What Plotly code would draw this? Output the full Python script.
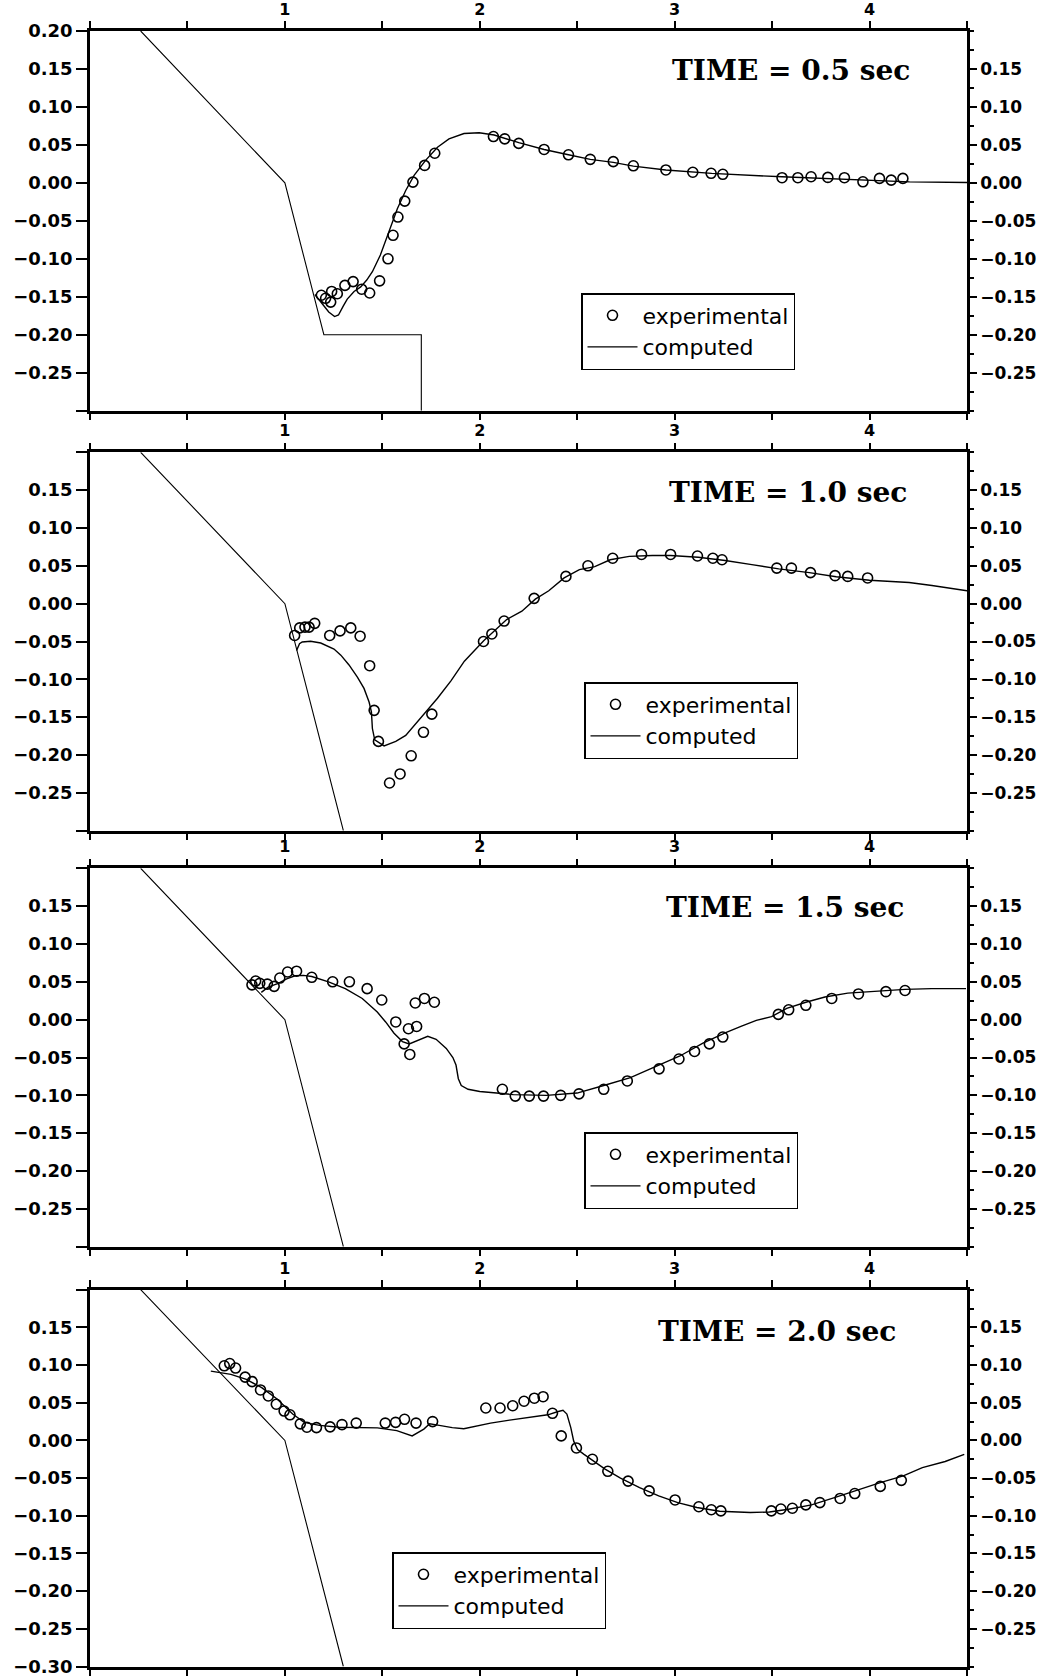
import plotly.graph_objects as go

# ---------------- data ----------------
panel_titles = ["TIME = 0.5 sec", "TIME = 1.0 sec", "TIME = 1.5 sec", "TIME = 2.0 sec"]

x_tick_vals = [0.0, 0.5, 1.0, 1.5, 2.0, 2.5, 3.0, 3.5, 4.0, 4.5]
x_tick_text = ["", "", "1", "", "2", "", "3", "", "4", ""]

y_tick_vals = [-0.30, -0.25, -0.20, -0.15, -0.10, -0.05, 0.00, 0.05, 0.10, 0.15, 0.20]
y_left_text_p1 = ["", "−0.25", "−0.20", "−0.15", "−0.10", "−0.05", "0.00", "0.05", "0.10", "0.15", "0.20"]
y_left_text_mid = ["", "−0.25", "−0.20", "−0.15", "−0.10", "−0.05", "0.00", "0.05", "0.10", "0.15", ""]
y_left_text_p4 = ["−0.30", "−0.25", "−0.20", "−0.15", "−0.10", "−0.05", "0.00", "0.05", "0.10", "0.15", ""]
y_right_text = ["", "−0.25", "−0.20", "−0.15", "−0.10", "−0.05", "0.00", "0.05", "0.10", "0.15", ""]
y_minor_vals = [-0.30, -0.275, -0.25, -0.225, -0.20, -0.175, -0.15, -0.125, -0.10, -0.075, -0.05,
                -0.025, 0.0, 0.025, 0.05, 0.075, 0.10, 0.125, 0.15, 0.175, 0.20]

# bottom profile (slope)
bed1_x = [0.26, 1.0, 1.2, 1.7, 1.7]
bed1_y = [0.20, 0.0, -0.20, -0.20, -0.30]
bed_x = [0.26, 1.0, 1.3]
bed_y = [0.20, 0.0, -0.30]

# TIME = 0.5 sec
comp1_x = [1.154, 1.19, 1.225, 1.255, 1.275, 1.30, 1.32, 1.355, 1.389, 1.42, 1.449, 1.49, 1.534,
           1.577, 1.62, 1.663, 1.723, 1.783, 1.842, 1.919, 1.997, 2.074, 2.20, 2.33, 2.455, 2.567,
           2.685, 2.788, 2.955, 3.19, 3.55, 3.95, 4.205, 4.51]
comp1_y = [-0.147, -0.158, -0.170, -0.176, -0.174, -0.162, -0.153, -0.143, -0.137, -0.128, -0.117,
           -0.095, -0.064, -0.034, -0.010, 0.010, 0.030, 0.047, 0.058, 0.065, 0.066, 0.063, 0.053,
           0.044, 0.037, 0.031, 0.027, 0.022, 0.017, 0.0125, 0.008, 0.0035, 0.0013, 0.0004]
exp1_x = [1.187, 1.209, 1.235, 1.240, 1.269, 1.308, 1.350, 1.394, 1.435, 1.486, 1.529, 1.555, 1.580,
          1.615, 1.657, 1.717, 1.769, 2.070, 2.128, 2.200, 2.330, 2.455, 2.567, 2.685, 2.788, 2.955,
          3.093, 3.187, 3.247, 3.551, 3.632, 3.700, 3.786, 3.871, 3.966, 4.051, 4.111, 4.171]
exp1_y = [-0.148, -0.152, -0.157, -0.143, -0.146, -0.135, -0.130, -0.140, -0.145, -0.129, -0.100,
          -0.069, -0.045, -0.024, 0.001, 0.023, 0.039, 0.061, 0.058, 0.052, 0.044, 0.037, 0.031,
          0.028, 0.0225, 0.017, 0.014, 0.0126, 0.0113, 0.0068, 0.0068, 0.0081, 0.0072, 0.0068,
          0.0014, 0.0059, 0.0036, 0.0059]

# TIME = 1.0 sec
comp2_x = [1.06, 1.075, 1.089, 1.132, 1.184, 1.252, 1.287, 1.329, 1.372, 1.406, 1.432, 1.444, 1.449,
           1.461, 1.509, 1.569, 1.620, 1.672, 1.723, 1.783, 1.852, 1.921, 2.02, 2.069, 2.138, 2.216,
           2.285, 2.354, 2.433, 2.511, 2.59, 2.669, 2.767, 2.885, 2.979, 3.121, 3.259, 3.396, 3.534,
           3.691, 3.829, 4.0, 4.203, 4.32, 4.50]
comp2_y = [-0.062, -0.053, -0.0506, -0.0497, -0.052, -0.060, -0.068, -0.081, -0.097, -0.112, -0.130,
           -0.143, -0.165, -0.180, -0.188, -0.182, -0.174, -0.158, -0.143, -0.125, -0.102, -0.076,
           -0.049, -0.037, -0.021, -0.010, 0.006, 0.017, 0.034, 0.045, 0.049, 0.058, 0.0625, 0.0636,
           0.0636, 0.0613, 0.057, 0.0516, 0.046, 0.041, 0.0356, 0.031, 0.028, 0.024, 0.017]
exp2_x = [1.050, 1.076, 1.103, 1.124, 1.153, 1.230, 1.283, 1.338, 1.386, 1.435, 1.458, 1.480, 1.537,
          1.591, 1.648, 1.711, 1.754, 2.019, 2.062, 2.125, 2.279, 2.442, 2.555, 2.682, 2.830, 2.979,
          3.117, 3.196, 3.243, 3.524, 3.599, 3.697, 3.823, 3.888, 3.990]
exp2_y = [-0.042, -0.032, -0.031, -0.031, -0.026, -0.042, -0.036, -0.032, -0.043, -0.082, -0.141,
          -0.182, -0.237, -0.225, -0.201, -0.170, -0.146, -0.050, -0.040, -0.023, 0.007, 0.036,
          0.050, 0.060, 0.065, 0.065, 0.063, 0.060, 0.058, 0.047, 0.047, 0.041, 0.037, 0.036, 0.034]

# TIME = 1.5 sec
comp3_x = [0.879, 0.914, 0.966, 1.009, 1.052, 1.095, 1.138, 1.224, 1.31, 1.397, 1.474, 1.517, 1.560,
           1.603, 1.638, 1.690, 1.733, 1.776, 1.828, 1.862, 1.878, 1.890, 1.905, 1.940, 2.0, 2.086,
           2.172, 2.342, 2.499, 2.636, 2.773, 2.910, 3.027, 3.145, 3.262, 3.34, 3.419, 3.497, 3.575,
           3.673, 3.771, 3.888, 4.006, 4.182, 4.319, 4.495]
comp3_y = [0.036, 0.043, 0.048, 0.054, 0.058, 0.0585, 0.057, 0.050, 0.041, 0.028, 0.010, -0.003,
           -0.018, -0.029, -0.032, -0.026, -0.022, -0.026, -0.038, -0.050, -0.060, -0.078, -0.087,
           -0.092, -0.095, -0.097, -0.099, -0.100, -0.097, -0.087, -0.0765, -0.061, -0.048, -0.031,
           -0.017, -0.009, -0.001, 0.004, 0.015, 0.023, 0.030, 0.035, 0.037, 0.040, 0.041, 0.041]
exp3_x = [0.831, 0.850, 0.871, 0.910, 0.945, 0.974, 1.014, 1.060, 1.138, 1.245, 1.331, 1.422, 1.497,
          1.569, 1.612, 1.634, 1.641, 1.676, 1.669, 1.716, 1.767, 2.116, 2.182, 2.254, 2.327, 2.415,
          2.509, 2.636, 2.757, 2.920, 3.022, 3.102, 3.178, 3.247, 3.532, 3.585, 3.673, 3.806, 3.943,
          4.084, 4.182]
exp3_y = [0.046, 0.051, 0.048, 0.047, 0.044, 0.055, 0.063, 0.064, 0.056, 0.050, 0.050, 0.041, 0.026,
          -0.003, -0.032, -0.012, -0.046, -0.009, 0.022, 0.028, 0.023, -0.092, -0.101, -0.101,
          -0.101, -0.100, -0.098, -0.092, -0.081, -0.065, -0.052, -0.042, -0.032, -0.023, 0.007,
          0.013, 0.019, 0.028, 0.034, 0.037, 0.0385]

# TIME = 2.0 sec
comp4_x = [0.62, 0.663, 0.723, 0.802, 0.881, 0.96, 1.04, 1.099, 1.178, 1.277, 1.376, 1.475, 1.574,
           1.653, 1.713, 1.743, 1.792, 1.859, 1.918, 1.976, 2.055, 2.153, 2.251, 2.349, 2.398, 2.427,
           2.447, 2.467, 2.482, 2.502, 2.535, 2.584, 2.643, 2.722, 2.82, 2.918, 3.016, 3.114, 3.231,
           3.388, 3.486, 3.584, 3.702, 3.82, 3.937, 4.055, 4.173, 4.271, 4.388, 4.486]
comp4_y = [0.092, 0.090, 0.0876, 0.081, 0.070, 0.055, 0.035, 0.024, 0.020, 0.0175, 0.0175, 0.0167,
           0.013, 0.006, 0.015, 0.022, 0.020, 0.017, 0.0155, 0.019, 0.023, 0.027, 0.031, 0.034, 0.038,
           0.040, 0.035, 0.017, -0.001, -0.012, -0.0185, -0.027, -0.038, -0.050, -0.0626, -0.0736,
           -0.0825, -0.089, -0.094, -0.0957, -0.095, -0.0913, -0.0855, -0.076, -0.066, -0.056,
           -0.047, -0.036, -0.028, -0.0185]
exp4_x = [0.689, 0.717, 0.747, 0.796, 0.832, 0.875, 0.915, 0.956, 0.996, 1.026, 1.079, 1.113, 1.162,
          1.232, 1.293, 1.366, 1.515, 1.568, 1.614, 1.673, 1.758, 2.031, 2.104, 2.169, 2.227, 2.280,
          2.325, 2.373, 2.418, 2.496, 2.578, 2.657, 2.761, 2.869, 3.002, 3.124, 3.188, 3.237, 3.496,
          3.545, 3.604, 3.673, 3.745, 3.849, 3.924, 4.055, 4.163]
exp4_y = [0.099, 0.102, 0.096, 0.084, 0.078, 0.067, 0.059, 0.048, 0.039, 0.034, 0.022, 0.0175, 0.017,
          0.018, 0.021, 0.023, 0.023, 0.024, 0.028, 0.023, 0.025, 0.043, 0.043, 0.046, 0.052, 0.056,
          0.058, 0.036, 0.006, -0.010, -0.025, -0.041, -0.054, -0.067, -0.079, -0.088, -0.092,
          -0.0935, -0.0935, -0.091, -0.090, -0.0855, -0.0825, -0.077, -0.0705, -0.061, -0.053]

# ---------------- layout helpers ----------------
W, H = 1050, 1678
x_dom = [90 / W, 967 / W]
panel_px = [(31, 410.7), (452.3, 830.7), (868.3, 1246.7), (1289.7, 1666.5)]
title_px = [(912, 70.6), (909, 492), (906, 907.6), (898, 1331)]
legend_px = [(581, 293), (584, 682), (584, 1132), (392, 1552)]

panels = [
    (bed1_x, bed1_y, comp1_x, comp1_y, exp1_x, exp1_y, y_left_text_p1),
    (bed_x, bed_y, comp2_x, comp2_y, exp2_x, exp2_y, y_left_text_mid),
    (bed_x, bed_y, comp3_x, comp3_y, exp3_x, exp3_y, y_left_text_mid),
    (bed_x, bed_y, comp4_x, comp4_y, exp4_x, exp4_y, y_left_text_p4),
]

tick_font = dict(family="DejaVu Sans", size=18, color="black", weight="bold")
right_font = dict(family="DejaVu Sans", size=17, color="black", weight="bold")
top_font = dict(family="DejaVu Sans", size=16, color="black", weight="bold")

fig = go.Figure()
layout = dict(
    width=W, height=H, margin=dict(l=0, r=0, t=0, b=0),
    paper_bgcolor="white", plot_bgcolor="white", showlegend=True,
    annotations=[],
)

for i, (bx, by, cx, cy, ex, ey, ltext) in enumerate(panels, start=1):
    xa = f"x{i}" if i > 1 else "x"
    ya = f"y{i}" if i > 1 else "y"
    yr = f"y{i + 4}"
    leg = "legend" if i == 1 else f"legend{i}"

    fig.add_trace(go.Scatter(x=bx, y=by, mode="lines", xaxis=xa, yaxis=ya,
                             line=dict(color="black", width=1.1), showlegend=False,
                             hoverinfo="skip"))
    fig.add_trace(go.Scatter(x=ex, y=ey, mode="markers", name="experimental", xaxis=xa, yaxis=ya,
                             marker=dict(symbol="circle-open", size=10, color="black",
                                         line=dict(width=1.6)),
                             legend=leg))
    fig.add_trace(go.Scatter(x=cx, y=cy, mode="lines", name="computed", xaxis=xa, yaxis=ya,
                             line=dict(color="black", width=1.4), legend=leg))
    fig.add_trace(go.Scatter(x=[], y=[], xaxis=xa, yaxis=yr, showlegend=False))

    top, bot = panel_px[i - 1]
    y_dom = [1 - bot / H, 1 - top / H]

    layout[f"xaxis{i}" if i > 1 else "xaxis"] = dict(
        domain=x_dom, anchor=ya, range=[0, 4.5], side="top",
        tickmode="array", tickvals=x_tick_vals, ticktext=x_tick_text,
        ticks="outside", ticklen=7, tickwidth=2, tickcolor="black",
        showline=True, linewidth=2.5, linecolor="black", mirror="ticks",
        showgrid=False, zeroline=False, tickfont=top_font, automargin=False,
        ticklabeloverflow="allow",
    )
    layout[f"yaxis{i}" if i > 1 else "yaxis"] = dict(
        domain=y_dom, anchor=xa, range=[-0.30, 0.20],
        tickmode="array", tickvals=y_tick_vals, ticktext=ltext,
        ticks="outside", ticklen=11, tickwidth=2, tickcolor="black",
        showline=True, linewidth=2.5, linecolor="black",
        showgrid=False, zeroline=False, tickfont=tick_font, automargin=False,
        ticklabeloverflow="allow",
    )
    layout[f"yaxis{i + 4}"] = dict(
        domain=y_dom, anchor=xa, overlaying=ya, side="right", range=[-0.30, 0.20],
        tickmode="array", tickvals=y_tick_vals, ticktext=y_right_text,
        ticks="outside", ticklen=7, tickwidth=2, tickcolor="black",
        minor=dict(tickmode="array", tickvals=y_minor_vals, ticks="outside", ticklen=4,
                   tickwidth=1.5, tickcolor="black"),
        showline=True, linewidth=2.5, linecolor="black",
        showgrid=False, zeroline=False, tickfont=right_font, automargin=False,
        ticklabeloverflow="allow",
    )

    lx, ly = legend_px[i - 1]
    layout[leg] = dict(
        x=lx / W, y=1 - ly / H, xanchor="left", yanchor="top",
        bordercolor="black", borderwidth=1.5, bgcolor="white",
        font=dict(family="DejaVu Sans", size=22, color="black"),
        traceorder="normal", itemwidth=50,
    )

    tx, ty = title_px[i - 1]
    layout["annotations"].append(dict(
        text=panel_titles[i - 1], xref="paper", yref="paper", x=tx / W, y=1 - ty / H,
        xanchor="right", yanchor="middle", showarrow=False,
        font=dict(family="DejaVu Serif", size=28, color="black", weight="bold"),
    ))

fig.update_layout(**layout)
fig.write_html("out.html")
